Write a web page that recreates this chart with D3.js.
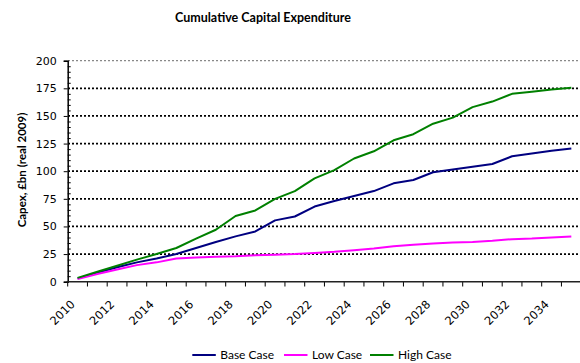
<!DOCTYPE html>
<html><head><meta charset="utf-8">
<script src="https://cdn.jsdelivr.net/npm/d3@7"></script>
<style>
body{margin:0;background:#fff;}
svg{display:block;}
</style></head>
<body><svg id="c" width="580" height="363"></svg>
<script>
const years = d3.range(2010, 2036);
const tickLabels = ["2010","2012","2014","2016","2018","2020","2022","2024","2026","2028","2030","2032","2034"];
const yTicks = [0,25,50,75,100,125,150,175,200];
const baseCase = [3,8,13,17.5,21,25,30.5,36,41,45.5,55.5,59,68,73,77.5,82,89,92,99,101.5,104,106.5,113.5,116,118.5,120.5];
const lowCase  = [2.5,7,11,15,17.5,21,22,22.5,23,24,24.5,25,26,27,28.5,30,32,33.5,34.5,35.5,36,37,38.5,39,40,41];
const highCase = [3.5,9,14.5,20,25,30.5,39,47,59.5,64.5,75,82,93.5,101,111.5,118,128,133.5,143,148.5,158,163,170,172,174,175.5];
const seriesNames = ["Base Case","Low Case","High Case"];
const seriesColors = ["#000080","#FF00FF","#008000"];
const seriesData = [baseCase, lowCase, highCase];

const svg = d3.select("#c");
const x = d3.scaleBand().domain(years).range([67.7, 581.2]).padding(0);
const y = d3.scaleLinear().domain([0,200]).range([281.7, 60.7]);
const cx = d => x(d) + x.bandwidth()/2;

// gridlines
svg.append("g").selectAll("line").data(yTicks.filter(d=>d>0)).join("line")
  .attr("x1", 68).attr("x2", 580)
  .attr("y1", d=>y(d)).attr("y2", d=>y(d))
  .attr("stroke", d=> d===200 ? "#888" : "#000")
  .attr("stroke-width", d=> d===200 ? 1.2 : 1.8)
  .attr("stroke-dasharray", "2,2");

// minor ticks inside y-axis
const minor = d3.range(0, 201, 5).filter(v => v % 25 !== 0);
svg.append("g").attr("transform","translate(67.7,0)")
  .call(d3.axisRight(y).tickValues(minor).tickSize(3).tickFormat(""))
  .call(g=>g.select(".domain").remove())
  .call(g=>g.selectAll("line").attr("stroke","#000"));

// y axis
const yAxis = svg.append("g").attr("transform","translate(67.7,0)")
  .call(d3.axisLeft(y).tickValues(yTicks).tickSize(4).tickPadding(7));
yAxis.select(".domain").attr("stroke","#000").attr("stroke-width",1.5);
yAxis.selectAll(".tick line").attr("stroke","#000");
yAxis.selectAll("text").attr("font-family","DejaVu Sans, Verdana, sans-serif").attr("font-size","11px").attr("fill","#000");

// x axis: ticks at category boundaries
const bounds = years.map(d=>x(d)).concat([x(years[years.length-1])+x.bandwidth()]);
svg.append("g").selectAll("line").data(bounds).join("line")
  .attr("x1", d=>d).attr("x2", d=>d).attr("y1", 281.7).attr("y2", 286.5)
  .attr("stroke","#000").attr("stroke-width",1);
svg.append("line").attr("x1",66.5).attr("x2",580).attr("y1",281.7).attr("y2",281.7)
  .attr("stroke","#222").attr("stroke-width",1.6);

svg.append("g").selectAll("text").data(tickLabels).join("text")
  .attr("transform", d=>`translate(${cx(+d)-2},305) rotate(-45)`)
  .attr("text-anchor","end")
  .attr("font-family","DejaVu Sans, Verdana, sans-serif").attr("font-size","11.5px")
  .attr("fill","#000").text(d=>d);

// lines
const line = d3.line().x((d,i)=>cx(years[i])).y(d=>y(d));
svg.append("g").selectAll("path").data(seriesData).join("path")
  .attr("d", d=>line(d)).attr("fill","none")
  .attr("stroke",(d,i)=>seriesColors[i]).attr("stroke-width",2)
  .attr("stroke-linejoin","round");

// title
svg.append("text").attr("x",263).attr("y",22).attr("text-anchor","middle")
  .attr("font-family","Lato, Open Sans, sans-serif").attr("font-weight","bold").attr("font-size","12.5px")
  .attr("fill","#000").text("Cumulative Capital Expenditure");

// y title
svg.append("text").attr("transform","translate(26,170) rotate(-90)").attr("text-anchor","middle")
  .attr("font-family","Lato, Open Sans, sans-serif").attr("font-weight","bold").attr("font-size","11.5px")
  .attr("fill","#000").text("Capex, £bn (real 2009)");

// legend
const legX = [192.3, 284, 370];
const lg = svg.append("g").selectAll("g").data(seriesNames).join("g")
  .attr("transform",(d,i)=>`translate(${legX[i]},355)`);
lg.append("line").attr("x1",0).attr("x2",23.5).attr("y1",0).attr("y2",0)
  .attr("stroke",(d,i)=>seriesColors[i]).attr("stroke-width",2);
lg.append("text").attr("x",28).attr("y",4.2)
  .attr("font-family","Lato, Open Sans, sans-serif").attr("font-size","12px")
  .attr("fill","#000").text(d=>d);
</script></body></html>
